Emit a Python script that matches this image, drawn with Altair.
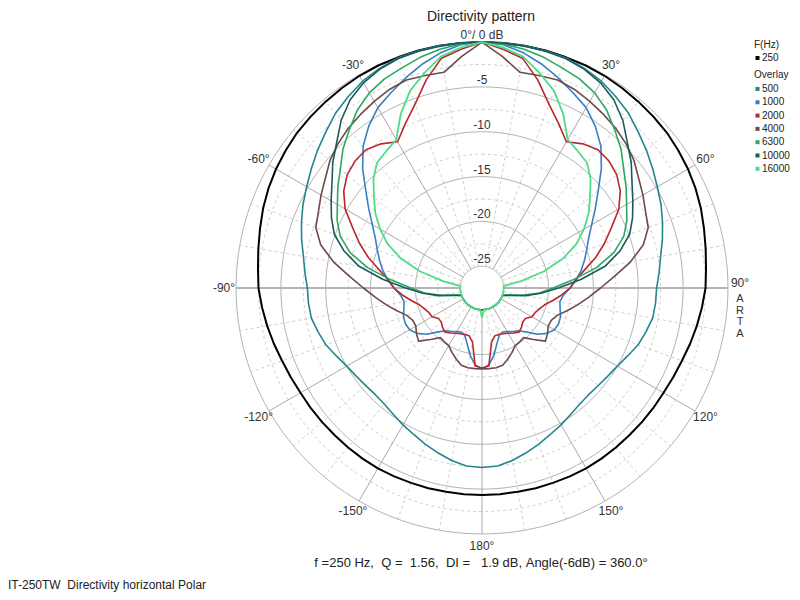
import altair as alt
import pandas as pd

# ---------------- data (dB at 0..180 deg, 5 deg steps, mirrored for -180..0) ----------------
ANGLES = list(range(0, 181, 5))

FREQS = ["250", "500", "1000", "2000", "4000", "6300", "10000", "16000"]
COLORS = ["#000000", "#23868f", "#3a7fc1", "#b8282c", "#6e4a4a", "#2aa860", "#1b5b5b", "#4fdc86"]
WIDTHS = [2.0, 1.6, 1.6, 1.6, 1.6, 1.6, 1.6, 1.8]

DB_250 = [0, 0, 0, 0, -0.05, -0.05, -0.1, -0.2, -0.3, -0.4, -0.5, -0.7, -0.9, -1.15, -1.45,
          -1.8, -2.1, -2.35, -2.5, -2.8, -3.1, -3.4, -3.7, -3.9, -4.05, -4.1, -4.15, -4.2,
          -4.2, -4.2, -4.2, -4.25, -4.3, -4.3, -4.35, -4.35, -4.35]
DB_500 = [0, 0, 0, -0.05, -0.1, -0.4, -0.8, -1.4, -2.0, -2.8, -3.5, -4.2, -4.85, -5.4, -6.0,
          -6.6, -7.2, -7.6, -7.95, -8.0, -8.1, -8.5, -8.9, -9.5, -10.0, -10.3, -10.5, -10.6,
          -10.5, -10.2, -9.8, -9.4, -8.9, -8.4, -7.9, -7.5, -7.4]
DB_1000 = [0, -0.2, -0.8, -1.6, -2.5, -3.4, -4.2, -5.4, -6.8, -8.6, -10.5, -12.0, -13.3, -14.3,
           -15.0, -15.6, -16.2, -16.9, -17.6, -18.3, -18.6, -18.4, -18.1, -18.0, -18.1, -18.6,
           -19.4, -20.5, -21.2, -21.5, -21.8, -22.0, -21.8, -21.0, -19.8, -18.8, -18.4]
DB_2000 = [0, -0.7, -1.4, -3.4, -5.6, -7.2, -8.6, -7.8, -7.3, -7.4, -7.8, -8.6, -9.8, -11.5,
           -12.9, -14.3, -15.8, -16.9, -17.6, -18.5, -19.4, -20.2, -20.6, -20.9, -21.0, -21.5,
           -21.5, -21.2, -21.0, -21.3, -21.6, -21.8, -21.9, -21.9, -21.3, -18.7, -18.5]
DB_4000 = [0, -1.5, -3.0, -2.9, -2.75, -3.0, -3.4, -3.8, -4.2, -4.7, -5.3, -6.1, -6.7, -7.3,
           -7.7, -8.8, -10.6, -12.6, -14.2, -15.5, -16.6, -17.6, -18.5, -18.9, -18.9, -18.5,
           -18.2, -19.3, -20.2, -20.1, -20.0, -19.5, -19.0, -18.5, -18.4, -18.4, -18.4]
DB_6300 = [0, -0.1, -0.4, -0.8, -1.3, -1.7, -2.3, -3.2, -4.4, -5.5, -6.8, -7.8, -8.8, -9.6,
           -10.6, -12.2, -14.5, -17.3, -19.5, -21.0, -22.8, -24.5, -25, -25, -25, -25, -25,
           -25, -25, -25, -25, -25, -25, -25, -25, -25, -25]
DB_10000 = [0, 0, -0.05, -0.1, -0.2, -0.5, -1.0, -1.8, -3.0, -4.5, -5.7, -7.0, -8.0, -8.9,
            -9.9, -11.5, -13.5, -16.3, -18.9, -20.8, -22.5, -24.2, -25, -25, -25, -25, -25,
            -25, -25, -25, -25, -25, -25, -25, -25, -25, -25]
DB_16000 = [0, -0.5, -1.2, -2.6, -4.0, -6.0, -8.3, -8.8, -9.2, -10.3, -11.7, -12.9, -14.3,
            -15.8, -17.8, -20.3, -23.0, -25, -25, -25, -25, -25, -25, -25, -25, -25, -25,
            -25, -25, -25, -25, -25, -25, -25, -25, -25, -24.1]
SERIES = [DB_250, DB_500, DB_1000, DB_2000, DB_4000, DB_6300, DB_10000, DB_16000]

RING_SOLID = [0, -5, -10, -15, -20, -25]
RING_DASHED = [-2.5, -7.5, -12.5, -17.5, -22.5]
RAD_SOLID = [-150, -120, -60, -30, 30, 60, 120, 150, 180]
RAD_AXIS = [-90, 90]
RAD_DASHED = [a for a in range(-170, 180, 10) if a % 30 != 0]
ANGLE_LABEL_VALUES = [-150, -120, -90, -60, -30, 30, 60, 90, 120, 150, 180]
ANGLE_LABELS = ["-150°", "-120°", "-90°", "-60°", "-30°", "30°", "60°", "90°", "120°", "150°", "180°"]
RING_LABEL_VALUES = [0, -5, -10, -15, -20, -25]
RING_LABELS = ["0°/ 0 dB", "-5", "-10", "-15", "-20", "-25"]

TITLE = "Directivity pattern"
INFO = "f =250 Hz,  Q =  1.56,  DI =   1.9 dB, Angle(-6dB) = 360.0°"
FOOTER = "IT-250TW  Directivity horizontal Polar"
LEGEND_HEAD = "F(Hz)"
LEGEND_SUB = "Overlay"

# ---------------- geometry of the polar scale ----------------
R_IN = 21.7          # radius of -25 dB ring
K = 8.97             # units per dB
R_OUT = R_IN + 25 * K
R_LAB = 258
R_EXPR = f"{R_IN} + (max(datum.db, -25) + 25) * {K}"
FONT = "Liberation Sans, Arial, sans-serif"

XS = alt.Scale(domain=[-474, 310], nice=False, zero=False)
YS = alt.Scale(domain=[-304, 280], nice=False, zero=False)


def X(f):
    return alt.X(f"{f}:Q", scale=XS, axis=None)


def Y(f):
    return alt.Y(f"{f}:Q", scale=YS, axis=None)


def polar(chart, rexpr, prefix=""):
    return chart.transform_calculate(**{
        prefix + "x": f"({rexpr}) * sin(datum.ang * PI / 180)",
        prefix + "y": f"({rexpr}) * cos(datum.ang * PI / 180)",
    })


layers = []


def rings(levels, color, dash):
    df = pd.DataFrame([(L, a) for L in levels for a in range(0, 361, 2)], columns=["db", "ang"])
    ch = alt.Chart(df).transform_calculate(r=R_EXPR)
    ch = polar(ch, "datum.r")
    kw = dict(color=color, strokeWidth=1)
    if dash:
        kw["strokeDash"] = [3, 3]
    return ch.mark_line(**kw).encode(x=X("x"), y=Y("y"), detail="db:N", order="ang:Q")


layers.append(rings(RING_DASHED, "#cfcfcf", True))
layers.append(rings(RING_SOLID, "#b3b3b3", False))


def radials(angles, color, width, dash):
    ch = alt.Chart(pd.DataFrame({"ang": angles}))
    ch = polar(ch, str(R_IN))
    ch = polar(ch, str(R_OUT), prefix="o")
    kw = dict(color=color, strokeWidth=width)
    if dash:
        kw["strokeDash"] = [3, 3]
    return ch.mark_rule(**kw).encode(x=X("x"), y=Y("y"), x2="ox:Q", y2="oy:Q")


layers.append(radials(RAD_DASHED, "#cfcfcf", 1, True))
layers.append(radials(RAD_SOLID, "#a9a9a9", 1, False))
layers.append(radials(RAD_AXIS, "#b5b5b5", 2, False))

# angle labels (90 deg label nudged up to leave room for the vertical ARTA mark)
ang_df = pd.DataFrame({"ang": ANGLE_LABEL_VALUES, "txt": ANGLE_LABELS})
ang_df["dy"] = [5 if a == 90 else 0 for a in ANGLE_LABEL_VALUES]
ang_lab = alt.Chart(ang_df).transform_calculate(
    x=f"{R_LAB} * sin(datum.ang * PI / 180)",
    y=f"{R_LAB} * cos(datum.ang * PI / 180) + datum.dy",
)
layers.append(ang_lab.mark_text(font=FONT, fontSize=12, color="#333333").encode(
    x=X("x"), y=Y("y"), text="txt:N"))

# ring labels
ring_lab = alt.Chart(pd.DataFrame({"db": RING_LABEL_VALUES, "txt": RING_LABELS})).transform_calculate(
    r=R_EXPR).transform_calculate(x="0", y="datum.r + 7")
layers.append(ring_lab.mark_text(font=FONT, fontSize=12, color="#333333").encode(
    x=X("x"), y=Y("y"), text="txt:N"))

# ARTA vertical
layers.append(alt.Chart(pd.DataFrame({"t": ["A\nR\nT\nA"], "x": [258], "y": [-5]})).mark_text(
    font=FONT, fontSize=11, color="#333333", lineBreak="\n", lineHeight=11.5, baseline="top").encode(
    x=X("x"), y=Y("y"), text="t:N"))

# curves
full_ang = [-a for a in reversed(ANGLES)] + ANGLES[1:]
for f, c, w, vals in zip(FREQS, COLORS, WIDTHS, SERIES):
    full_db = list(reversed(vals)) + vals[1:]
    df = pd.DataFrame({"ang": full_ang, "db": full_db, "freq": f})
    ch = alt.Chart(df).transform_calculate(r=R_EXPR)
    ch = polar(ch, "datum.r")
    layers.append(ch.mark_line(color=c, strokeWidth=w, strokeJoin="round").encode(
        x=X("x"), y=Y("y"), order="ang:Q"))

# legend (manual, data units)
leg_rows = [(LEGEND_HEAD, 243, None)]
leg_rows.append((FREQS[0], 230, COLORS[0]))
leg_rows.append((LEGEND_SUB, 213, None))
for i, (f, c) in enumerate(zip(FREQS[1:], COLORS[1:])):
    leg_rows.append((f, 199 - 13.3 * i, c))
head = pd.DataFrame([(t, y) for t, y, c in leg_rows if c is None], columns=["t", "y"]).assign(x=272)
items = pd.DataFrame([(t, y, c) for t, y, c in leg_rows if c is not None], columns=["t", "y", "c"])
items["x"] = 280
items["sx"] = 275.5
layers.append(alt.Chart(head).mark_text(font=FONT, fontSize=10, color="#222222", align="left").encode(
    x=X("x"), y=Y("y"), text="t:N"))
layers.append(alt.Chart(items).mark_text(font=FONT, fontSize=10, color="#222222", align="left").encode(
    x=X("x"), y=Y("y"), text="t:N"))
layers.append(alt.Chart(items).mark_square(size=16, opacity=1).encode(
    x=X("sx"), y=Y("y"), color=alt.Color("c:N", scale=None)))

# title / texts
layers.append(alt.Chart(pd.DataFrame({"t": [TITLE]})).mark_text(
    font=FONT, fontSize=14, color="#222222").encode(x=alt.value(473), y=alt.value(9), text="t:N"))
layers.append(alt.Chart(pd.DataFrame({"t": [INFO.replace(" ", "\u00a0")]})).mark_text(
    font=FONT, fontSize=13, color="#222222").encode(x=alt.value(473), y=alt.value(555), text="t:N"))
layers.append(alt.Chart(pd.DataFrame({"t": [FOOTER.replace(" ", "\u00a0")]})).mark_text(
    font=FONT, fontSize=12, color="#222222", align="left").encode(x=alt.value(0), y=alt.value(577), text="t:N"))

chart = alt.layer(*layers).properties(
    width=784, height=584, autosize=alt.AutoSizeParams(type="none"), padding=0
).configure_view(strokeOpacity=0)

chart.save("out.html", embed_options={"renderer": "svg", "actions": False})
